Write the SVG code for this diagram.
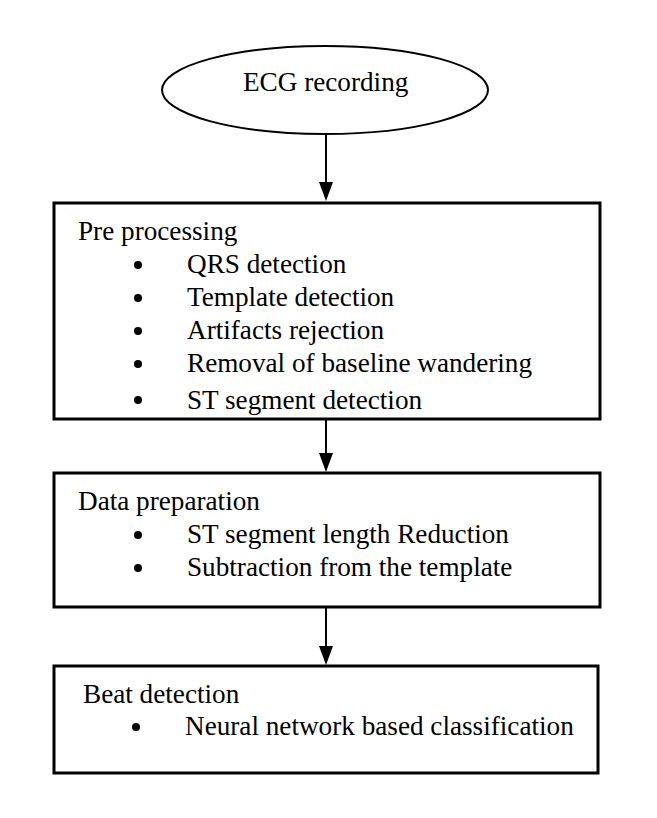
<svg xmlns="http://www.w3.org/2000/svg" width="657" height="818" viewBox="0 0 657 818">
<style>
text{font-family:"Liberation Serif","Times New Roman",serif;font-size:27.2px;fill:#000}
.box{fill:#fff;stroke:#000;stroke-width:3}
.ell{fill:#fff;stroke:#000;stroke-width:2}
.conn{stroke:#000;stroke-width:2;fill:none}
.head{fill:#000}
.bul{fill:#000}
</style>
<rect width="657" height="818" fill="#fff"/>
<g id="connectors">
<line class="conn" x1="326" y1="134" x2="326" y2="184"/>
<path class="head" d="M319,182 L333,182 L326,201 Z"/>
<line class="conn" x1="326" y1="420" x2="326" y2="455"/>
<path class="head" d="M319,453 L333,453 L326,472 Z"/>
<line class="conn" x1="326" y1="607" x2="326" y2="648"/>
<path class="head" d="M319,646 L333,646 L326,665 Z"/>
</g>
<g id="ecg">
<ellipse class="ell" cx="325" cy="90" rx="163" ry="44"/>
<text x="243" y="91">ECG recording</text>
</g>
<g id="pre">
<rect class="box" x="54" y="203" width="546" height="216"/>
<text x="78" y="240">Pre processing</text>
<circle class="bul" cx="138" cy="265" r="4"/><text x="187" y="273">QRS detection</text>
<circle class="bul" cx="138" cy="298" r="4"/><text x="187" y="306">Template detection</text>
<circle class="bul" cx="138" cy="331" r="4"/><text x="187" y="339">Artifacts rejection</text>
<circle class="bul" cx="138" cy="364" r="4"/><text x="187" y="372">Removal of baseline wandering</text>
<circle class="bul" cx="138" cy="400" r="4"/><text x="187" y="409">ST segment detection</text>
</g>
<g id="data">
<rect class="box" x="54" y="473" width="546" height="134"/>
<text x="78" y="510">Data preparation</text>
<circle class="bul" cx="138" cy="535" r="4"/><text x="187" y="543">ST segment length Reduction</text>
<circle class="bul" cx="138" cy="568" r="4"/><text x="187" y="576">Subtraction from the template</text>
</g>
<g id="beat">
<rect class="box" x="54" y="666" width="544" height="107"/>
<text x="83" y="703">Beat detection</text>
<circle class="bul" cx="136" cy="727" r="4"/><text x="185" y="735">Neural network based classification</text>
</g>
</svg>
